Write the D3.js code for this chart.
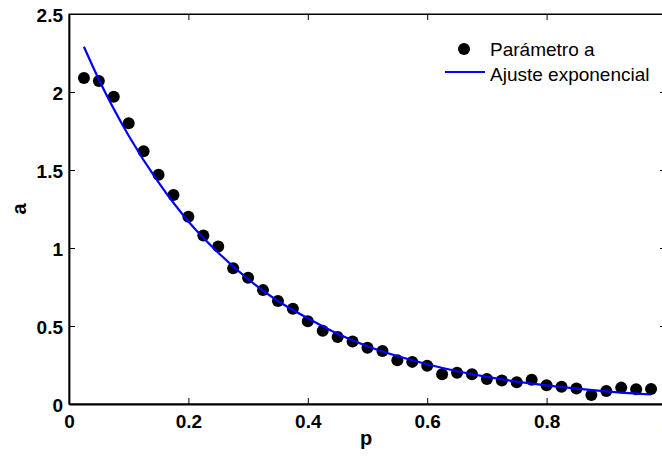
<!DOCTYPE html>
<html>
<head>
<meta charset="utf-8">
<script src="https://cdn.jsdelivr.net/npm/d3@7"></script>
<style>
  body { margin: 0; background: #fff; }
  svg { font-family: "Liberation Sans", Arial, sans-serif; }
  .tick text { font-size: 19px; font-weight: bold; fill: #000; }
  .axisLabel { font-size: 20px; font-weight: bold; }
  .legendText { font-size: 19px; }
</style>
</head>
<body>
<svg id="chart" width="662" height="458"></svg>
<script>
// measured values of parameter a for each p
var pValues = [0.025, 0.05, 0.075, 0.1, 0.125, 0.15, 0.175, 0.2, 0.225, 0.25,
	0.275, 0.3, 0.325, 0.35, 0.375, 0.4, 0.425, 0.45, 0.475, 0.5,
	0.525, 0.55, 0.575, 0.6, 0.625, 0.65, 0.675, 0.7, 0.725, 0.75,
	0.775, 0.8, 0.825, 0.85, 0.875, 0.9, 0.925, 0.95, 0.975];
var aValues = [2.09, 2.07, 1.97, 1.80, 1.62, 1.47, 1.34, 1.20, 1.08, 1.01,
	0.87, 0.81, 0.73, 0.66, 0.61, 0.53, 0.47, 0.43, 0.40, 0.36,
	0.34, 0.28, 0.27, 0.245, 0.19, 0.20, 0.19, 0.16, 0.15, 0.14,
	0.155, 0.12, 0.11, 0.10, 0.058, 0.083, 0.105, 0.094, 0.096];

// exponential fit curve
var fitP = [0.025, 0.05, 0.1, 0.15, 0.2, 0.25, 0.3, 0.35, 0.4, 0.45, 0.5, 0.6, 0.7, 0.8, 0.9, 0.975];
var fitA = [2.29, 2.08, 1.72, 1.42, 1.17, 0.97, 0.80, 0.66, 0.55, 0.45, 0.37, 0.255, 0.174, 0.119, 0.081, 0.061];

var xTicks = [0, 0.2, 0.4, 0.6, 0.8, 1];
var yTicks = [0, 0.5, 1, 1.5, 2, 2.5];
var legendLabels = ['Parámetro a', 'Ajuste exponencial'];

var svg = d3.select('#chart');

var x = d3.scaleLinear().domain([0, 1]).range([69, 666]);
var y = d3.scaleLinear().domain([0, 2.5]).range([404, 14]);

var fmt = function(d) { return String(d); };

// box
svg.append('rect')
	.attr('x', x(0)).attr('y', y(2.5))
	.attr('width', x(1) - x(0)).attr('height', y(0) - y(2.5))
	.attr('fill', 'none').attr('stroke', '#000').attr('stroke-width', 1);

// axes with inward ticks
var xAxis = svg.append('g').attr('transform', 'translate(0,' + y(0) + ')')
	.call(d3.axisBottom(x).tickValues(xTicks).tickFormat(fmt).tickSizeInner(-6).tickSizeOuter(0).tickPadding(11));
var yAxis = svg.append('g').attr('transform', 'translate(' + x(0) + ',0)')
	.call(d3.axisLeft(y).tickValues(yTicks).tickFormat(fmt).tickSizeInner(-6).tickSizeOuter(0).tickPadding(6));
var xTop = svg.append('g').attr('transform', 'translate(0,' + y(2.5) + ')')
	.call(d3.axisTop(x).tickValues(xTicks).tickFormat('').tickSizeInner(-6).tickSizeOuter(0));
var yRight = svg.append('g').attr('transform', 'translate(' + x(1) + ',0)')
	.call(d3.axisRight(y).tickValues(yTicks).tickFormat('').tickSizeInner(-6).tickSizeOuter(0));

[xAxis, yAxis, xTop, yRight].forEach(function(g) {
	g.select('.domain').attr('stroke', '#000').attr('stroke-width', 1.8);
	g.selectAll('.tick line').attr('stroke', '#000');
});
xTop.select('.domain').attr('stroke-width', 1);
yRight.select('.domain').attr('stroke-width', 1);
yAxis.selectAll('.tick text').attr('dy', '0.42em');

// axis labels
svg.append('text').attr('class', 'axisLabel')
	.attr('x', 366).attr('y', 445).attr('text-anchor', 'middle').text('p');
svg.append('text').attr('class', 'axisLabel')
	.attr('transform', 'translate(26,' + 209 + ') rotate(-90)')
	.attr('text-anchor', 'middle').text('a');

// data points
svg.selectAll('circle.pt')
	.data(pValues)
	.enter()
	.append('circle')
	.attr('class', 'pt')
	.attr('cx', d => x(d))
	.attr('cy', (d, i) => y(aValues[i]))
	.attr('r', 6)
	.attr('fill', '#000');

// fit line
var line = d3.line()
	.x(d => x(d[0]))
	.y(d => y(d[1]))
	.curve(d3.curveMonotoneX);

svg.append('path')
	.datum(fitP.map((p, i) => [p, fitA[i]]))
	.attr('d', line)
	.attr('fill', 'none')
	.attr('stroke', '#0000ff')
	.attr('stroke-width', 2.2);

// legend
svg.append('circle').attr('cx', 464).attr('cy', 49).attr('r', 6).attr('fill', '#000');
svg.append('line')
	.attr('x1', 445).attr('x2', 485).attr('y1', 72).attr('y2', 72)
	.attr('stroke', '#0000ff').attr('stroke-width', 2.2);
svg.selectAll('text.legendText')
	.data(legendLabels)
	.enter()
	.append('text')
	.attr('class', 'legendText')
	.attr('x', 490)
	.attr('y', (d, i) => 56 + i * 25)
	.text(d => d);
</script>
</body>
</html>
